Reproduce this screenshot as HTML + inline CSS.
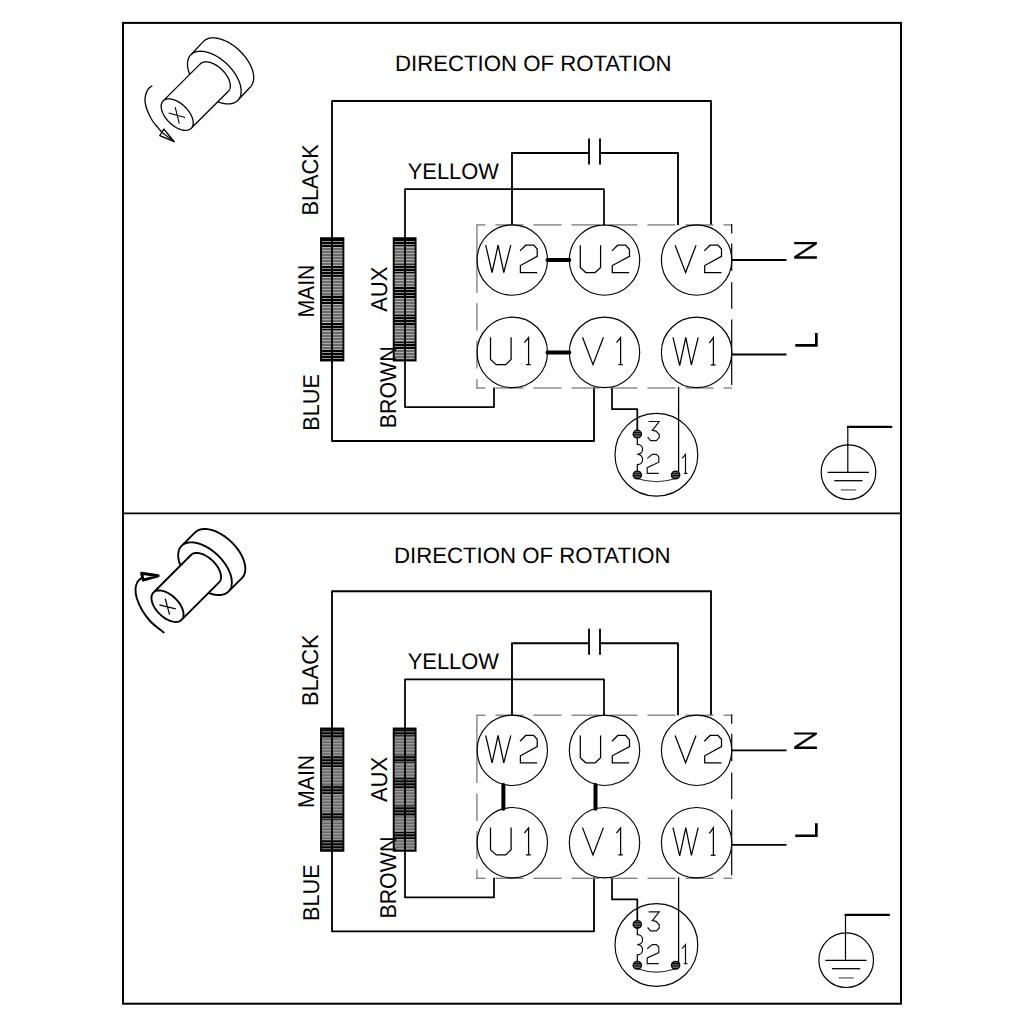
<!DOCTYPE html>
<html><head><meta charset="utf-8"><style>
html,body{margin:0;padding:0;background:#fff;}
svg{display:block;}
</style></head><body>
<svg width="1024" height="1024" viewBox="0 0 1024 1024" stroke-linecap="butt">
<defs>
<pattern id="bb" patternUnits="userSpaceOnUse" x="0" y="0" width="4" height="3">
<rect width="4" height="3" fill="#000"/><rect y="1" width="4" height="1" fill="#939393"/>
</pattern>
<pattern id="gb" patternUnits="userSpaceOnUse" x="0" y="0" width="4" height="3">
<rect width="4" height="3" fill="#6a6a6a"/><rect y="1" width="4" height="1" fill="#aaaaaa"/>
</pattern>
<pattern id="dot" patternUnits="userSpaceOnUse" width="4" height="2.4">
<rect width="4" height="2.4" fill="#000"/><rect y="1.2" width="4" height="0.9" fill="#a0a0a0"/>
</pattern>
</defs>
<rect x="0" y="0" width="1024" height="1024" fill="#fff"/>
<rect x="123" y="22.9" width="778" height="980.8" fill="none" stroke="#000" stroke-width="2"/>
<line x1="123" y1="513.3" x2="901" y2="513.3" stroke="#000" stroke-width="1.8"/>
<g transform="translate(0 0)">
<path d="M332 360.5 L332 101 L711 101 L711 225" stroke="#000" stroke-width="1.85" fill="none" stroke-linejoin="round"/>
<path d="M512 225 L512 153 L589 153" stroke="#000" stroke-width="1.85" fill="none" stroke-linejoin="round"/>
<path d="M600 153 L678 153 L678 225" stroke="#000" stroke-width="1.85" fill="none" stroke-linejoin="round"/>
<line x1="589" y1="139.1" x2="589" y2="163.7" stroke="#000" stroke-width="1.85" stroke-linecap="round"/>
<line x1="600" y1="139.1" x2="600" y2="163.7" stroke="#000" stroke-width="1.85" stroke-linecap="round"/>
<path d="M405 238.5 L405 189 L604 189 L604 225.5" stroke="#000" stroke-width="1.75" fill="none" stroke-linejoin="round"/>
<path d="M405 360 L405 407 L494 407 L494 387.5" stroke="#000" stroke-width="1.75" fill="none" stroke-linejoin="round"/>
<path d="M332 360.5 L332 441 L594 441 L594 387" stroke="#000" stroke-width="1.85" fill="none" stroke-linejoin="round"/>
<path d="M612 387 L612 409 L637.3 409 L637.3 434" stroke="#000" stroke-width="1.75" fill="none" stroke-linejoin="round"/>
<line x1="678.6" y1="387" x2="678.6" y2="475" stroke="#000" stroke-width="1.3" />
<rect x="321" y="238.2" width="22.4" height="9.5" fill="url(#bb)"/>
<rect x="321" y="247.7" width="22.4" height="17.8" fill="url(#gb)"/>
<rect x="321" y="265.5" width="22.4" height="11.4" fill="url(#bb)"/>
<rect x="321" y="276.9" width="22.4" height="17.8" fill="url(#gb)"/>
<rect x="321" y="294.7" width="22.4" height="9.5" fill="url(#bb)"/>
<rect x="321" y="304.2" width="22.4" height="18.4" fill="url(#gb)"/>
<rect x="321" y="322.6" width="22.4" height="7.6" fill="url(#bb)"/>
<rect x="321" y="330.2" width="22.4" height="19.1" fill="url(#gb)"/>
<rect x="321" y="349.3" width="22.4" height="11.2" fill="url(#bb)"/>
<rect x="321" y="238.2" width="22.4" height="122.3" fill="none" stroke="#000" stroke-width="1.9"/>
<line x1="332" y1="238.2" x2="332" y2="360.5" stroke="#000" stroke-width="1.9" />
<rect x="393.7" y="238.2" width="21.9" height="8.2" fill="url(#bb)"/>
<rect x="393.7" y="246.4" width="21.9" height="17.8" fill="url(#gb)"/>
<rect x="393.7" y="264.2" width="21.9" height="8.9" fill="url(#bb)"/>
<rect x="393.7" y="273.1" width="21.9" height="13.9" fill="url(#gb)"/>
<rect x="393.7" y="287" width="21.9" height="11.5" fill="url(#bb)"/>
<rect x="393.7" y="298.5" width="21.9" height="16.5" fill="url(#gb)"/>
<rect x="393.7" y="315" width="21.9" height="11.4" fill="url(#bb)"/>
<rect x="393.7" y="326.4" width="21.9" height="15.2" fill="url(#gb)"/>
<rect x="393.7" y="341.6" width="21.9" height="7.7" fill="url(#bb)"/>
<rect x="393.7" y="349.3" width="21.9" height="10.1" fill="url(#gb)"/>
<rect x="393.7" y="359.4" width="21.9" height="0.9" fill="url(#bb)"/>
<rect x="393.7" y="238.2" width="21.9" height="122.3" fill="none" stroke="#000" stroke-width="1.9"/>
<line x1="405" y1="238.2" x2="405" y2="360.5" stroke="#000" stroke-width="1.9" />
<line x1="476.3" y1="224.9" x2="485.5" y2="224.9" stroke="#7a7a7a" stroke-width="1.3" />
<line x1="476.3" y1="388" x2="485.5" y2="388" stroke="#7a7a7a" stroke-width="1.3" />
<line x1="495.5" y1="224.9" x2="523.5" y2="224.9" stroke="#7a7a7a" stroke-width="1.3" />
<line x1="495.5" y1="388" x2="523.5" y2="388" stroke="#7a7a7a" stroke-width="1.3" />
<line x1="533.5" y1="224.9" x2="561.5" y2="224.9" stroke="#7a7a7a" stroke-width="1.3" />
<line x1="533.5" y1="388" x2="561.5" y2="388" stroke="#7a7a7a" stroke-width="1.3" />
<line x1="571.5" y1="224.9" x2="599.5" y2="224.9" stroke="#7a7a7a" stroke-width="1.3" />
<line x1="571.5" y1="388" x2="599.5" y2="388" stroke="#7a7a7a" stroke-width="1.3" />
<line x1="609.5" y1="224.9" x2="637.5" y2="224.9" stroke="#7a7a7a" stroke-width="1.3" />
<line x1="609.5" y1="388" x2="637.5" y2="388" stroke="#7a7a7a" stroke-width="1.3" />
<line x1="647.5" y1="224.9" x2="675.5" y2="224.9" stroke="#7a7a7a" stroke-width="1.3" />
<line x1="647.5" y1="388" x2="675.5" y2="388" stroke="#7a7a7a" stroke-width="1.3" />
<line x1="685.5" y1="224.9" x2="713.5" y2="224.9" stroke="#7a7a7a" stroke-width="1.3" />
<line x1="685.5" y1="388" x2="713.5" y2="388" stroke="#7a7a7a" stroke-width="1.3" />
<line x1="723.5" y1="224.9" x2="732.2" y2="224.9" stroke="#7a7a7a" stroke-width="1.3" />
<line x1="723.5" y1="388" x2="732.2" y2="388" stroke="#7a7a7a" stroke-width="1.3" />
<line x1="476.9" y1="224.9" x2="476.9" y2="292.7" stroke="#7a7a7a" stroke-width="1.3" />
<line x1="476.9" y1="303.2" x2="476.9" y2="330.6" stroke="#7a7a7a" stroke-width="1.3" />
<line x1="476.9" y1="340.8" x2="476.9" y2="368.6" stroke="#7a7a7a" stroke-width="1.3" />
<line x1="476.9" y1="379.3" x2="476.9" y2="388.6" stroke="#7a7a7a" stroke-width="1.3" />
<line x1="731.7" y1="224.2" x2="731.7" y2="233.4" stroke="#000" stroke-width="1.2" />
<line x1="731.7" y1="243.5" x2="731.7" y2="270.7" stroke="#000" stroke-width="1.2" />
<line x1="731.7" y1="282.2" x2="731.7" y2="308.8" stroke="#000" stroke-width="1.2" />
<line x1="731.7" y1="319.5" x2="731.7" y2="384.9" stroke="#000" stroke-width="1.2" />
<circle cx="512.3" cy="260" r="35.2" fill="none" stroke="#000" stroke-width="1.15"/>
<path d="M485.7 245.2 L492.1 272.5 L498.1 245.2 L503.8 272.5 L510.8 245.2" stroke="#000" stroke-width="1.25" fill="none" />
<path d="M520 250.9 L525.7 245.2 L533.7 245.2 L537.2 249 L537.2 256.3 L520.4 265.5 L520.4 272.5 L537.2 272.5" stroke="#000" stroke-width="1.25" fill="none" />
<circle cx="604.5" cy="260" r="35.2" fill="none" stroke="#000" stroke-width="1.15"/>
<path d="M580.3 245.2 L580.3 267.4 L585.7 272.5 L595.2 272.5 L600.6 267.4 L600.6 245.2" stroke="#000" stroke-width="1.25" fill="none" />
<path d="M612 250.9 L617.7 245.2 L625.7 245.2 L629.5 249.6 L629.5 256.3 L612.3 265.5 L612.3 272.5 L629.1 272.5" stroke="#000" stroke-width="1.25" fill="none" />
<circle cx="696.6" cy="260" r="35.2" fill="none" stroke="#000" stroke-width="1.15"/>
<path d="M675.1 245.2 L685.6 272.5 L696.05 245.2" stroke="#000" stroke-width="1.25" fill="none" />
<path d="M704.3 250.9 L710 245.2 L718 245.2 L721.5 249 L721.5 256.3 L704.7 265.5 L704.7 272.5 L721.5 272.5" stroke="#000" stroke-width="1.25" fill="none" />
<circle cx="512.3" cy="352.4" r="35.2" fill="none" stroke="#000" stroke-width="1.15"/>
<path d="M490.5 337.3 L490.5 359.5 L496.2 364.6 L505.7 364.6 L511.1 359.5 L511.1 337.3" stroke="#000" stroke-width="1.25" fill="none" />
<path d="M524.4 342.7 L528.6 337.6 L528.6 364.6" stroke="#000" stroke-width="1.25" fill="none" />
<path d="M526 364.6 L530.8 364.6" stroke="#000" stroke-width="1.25" fill="none" />
<circle cx="604.5" cy="352.4" r="35.2" fill="none" stroke="#000" stroke-width="1.15"/>
<path d="M582.5 337.3 L593 364.6 L603.43 337.3" stroke="#000" stroke-width="1.25" fill="none" />
<path d="M616.5 342.7 L620.6 337.6 L620.6 364.6" stroke="#000" stroke-width="1.25" fill="none" />
<path d="M618.4 364.6 L622.8 364.6" stroke="#000" stroke-width="1.25" fill="none" />
<circle cx="696.6" cy="352.4" r="35.2" fill="none" stroke="#000" stroke-width="1.15"/>
<path d="M673 337.4 L679.7 365.5 L685.8 337.4 L691.4 365 L698.2 337.4" stroke="#000" stroke-width="1.25" fill="none" />
<path d="M709.4 343.1 L713.4 337.5 L713.4 365" stroke="#000" stroke-width="1.25" fill="none" />
<path d="M710.8 365 L715.5 365" stroke="#000" stroke-width="1.25" fill="none" />
<line x1="547.5" y1="260" x2="569.3" y2="260" stroke="#000" stroke-width="4" stroke-linecap="round"/>
<line x1="547.5" y1="352.4" x2="569.3" y2="352.4" stroke="#000" stroke-width="4" stroke-linecap="round"/>
<line x1="732" y1="260" x2="786.5" y2="260" stroke="#000" stroke-width="1.8" />
<line x1="732" y1="354.5" x2="786.5" y2="354.5" stroke="#000" stroke-width="1.8" />
<path d="M794.2 242.1 H816.9 V244.3 L798.5 256.3 H816.9 V258.8 H794.2 V256.3 L812.6 244.3 H794.2 Z" fill="#000"/>
<path d="M795.3 344.1 H815 V333 H817.7 V346.8 H795.3 Z" fill="#000"/>
<circle cx="656.4" cy="454.7" r="41.4" fill="none" stroke="#000" stroke-width="1.15"/>
<path d="M637.3 438 V444.4 C644.3 444.4 644.3 454.3 637.3 454.3 C644.3 454.3 644.3 464.6 637.3 464.6 V471" fill="none" stroke="#000" stroke-width="1.2"/>
<path d="M637.3 478.5 Q656.4 485 675.6 478.5" fill="none" stroke="#333" stroke-width="1.2"/>
<ellipse cx="637.3" cy="434.1" rx="4.2" ry="3.9" fill="url(#dot)" stroke="#000" stroke-width="1.2"/>
<ellipse cx="637.3" cy="475" rx="4.2" ry="3.9" fill="url(#dot)" stroke="#000" stroke-width="1.2"/>
<ellipse cx="675.6" cy="475" rx="4.2" ry="3.9" fill="url(#dot)" stroke="#000" stroke-width="1.2"/>
<path d="M648.6 421.5 L659.2 421.5 L652.3 430.4 L656.1 431.1 L659.2 434.5 L659.2 437.6 L656.4 440.6 L650.6 440.6 L647.6 437.2" stroke="#111" stroke-width="1.2" fill="none" />
<path d="M647.2 458.4 L652.3 454.3 L656.4 454.3 L658.8 456.7 L658.8 462.2 L647.2 467.6 L647.2 473.4 L658.8 473.4" stroke="#111" stroke-width="1.2" fill="none" />
<path d="M682.1 458.4 L685.5 454.3 L685.5 473.4" stroke="#111" stroke-width="1.2" fill="none" />
<line x1="683.8" y1="473.4" x2="687.5" y2="473.4" stroke="#111" stroke-width="1.2" />
<text x="395" y="70.85" font-size="22.3" textLength="276.5" lengthAdjust="spacingAndGlyphs" font-family="Liberation Sans, sans-serif" fill="#000" text-rendering="geometricPrecision">DIRECTION OF ROTATION</text>
<text x="407.8" y="178.9" font-size="22.5" textLength="91" lengthAdjust="spacingAndGlyphs" font-family="Liberation Sans, sans-serif" fill="#000" text-rendering="geometricPrecision">YELLOW</text>
<text transform="translate(317.9 215.6) rotate(-90)" x="0" y="0" font-size="22.9" textLength="71.5" lengthAdjust="spacingAndGlyphs" font-family="Liberation Sans, sans-serif" fill="#000" text-rendering="geometricPrecision">BLACK</text>
<text transform="translate(313.8 317.6) rotate(-90)" x="0" y="0" font-size="22.9" textLength="53" lengthAdjust="spacingAndGlyphs" font-family="Liberation Sans, sans-serif" fill="#000" text-rendering="geometricPrecision">MAIN</text>
<text transform="translate(319.2 430.7) rotate(-90)" x="0" y="0" font-size="22.9" textLength="56.6" lengthAdjust="spacingAndGlyphs" font-family="Liberation Sans, sans-serif" fill="#000" text-rendering="geometricPrecision">BLUE</text>
<text transform="translate(386.7 311.8) rotate(-90)" x="0" y="0" font-size="22.9" textLength="45.2" lengthAdjust="spacingAndGlyphs" font-family="Liberation Sans, sans-serif" fill="#000" text-rendering="geometricPrecision">AUX</text>
<text transform="translate(395.8 428.3) rotate(-90)" x="0" y="0" font-size="22.9" textLength="82" lengthAdjust="spacingAndGlyphs" font-family="Liberation Sans, sans-serif" fill="#000" text-rendering="geometricPrecision">BROWN</text>
<g transform="translate(0 0)">
<circle cx="848.5" cy="472.2" r="27.3" fill="none" stroke="#000" stroke-width="1.2"/>
<line x1="847.8" y1="426.9" x2="891.3" y2="426.9" stroke="#000" stroke-width="2.2" stroke-linecap="round"/>
<line x1="847.8" y1="426.9" x2="847.8" y2="472.3" stroke="#000" stroke-width="1.2" />
<line x1="827.6" y1="472.3" x2="868.9" y2="472.3" stroke="#000" stroke-width="1.3" />
<line x1="834.3" y1="480.7" x2="862.5" y2="480.7" stroke="#000" stroke-width="1.3" />
<line x1="840.8" y1="489.9" x2="856" y2="489.9" stroke="#777" stroke-width="1.5" />
</g>
</g><g transform="translate(0 490.3)">
<path d="M332 360.5 L332 101 L711 101 L711 225" stroke="#000" stroke-width="1.85" fill="none" stroke-linejoin="round"/>
<path d="M512 225 L512 153 L589 153" stroke="#000" stroke-width="1.85" fill="none" stroke-linejoin="round"/>
<path d="M600 153 L678 153 L678 225" stroke="#000" stroke-width="1.85" fill="none" stroke-linejoin="round"/>
<line x1="589" y1="139.1" x2="589" y2="163.7" stroke="#000" stroke-width="1.85" stroke-linecap="round"/>
<line x1="600" y1="139.1" x2="600" y2="163.7" stroke="#000" stroke-width="1.85" stroke-linecap="round"/>
<path d="M405 238.5 L405 189 L604 189 L604 225.5" stroke="#000" stroke-width="1.75" fill="none" stroke-linejoin="round"/>
<path d="M405 360 L405 407 L494 407 L494 387.5" stroke="#000" stroke-width="1.75" fill="none" stroke-linejoin="round"/>
<path d="M332 360.5 L332 441 L594 441 L594 387" stroke="#000" stroke-width="1.85" fill="none" stroke-linejoin="round"/>
<path d="M612 387 L612 409 L637.3 409 L637.3 434" stroke="#000" stroke-width="1.75" fill="none" stroke-linejoin="round"/>
<line x1="678.6" y1="387" x2="678.6" y2="475" stroke="#000" stroke-width="1.3" />
<rect x="321" y="238.2" width="22.4" height="9.5" fill="url(#bb)"/>
<rect x="321" y="247.7" width="22.4" height="17.8" fill="url(#gb)"/>
<rect x="321" y="265.5" width="22.4" height="11.4" fill="url(#bb)"/>
<rect x="321" y="276.9" width="22.4" height="17.8" fill="url(#gb)"/>
<rect x="321" y="294.7" width="22.4" height="9.5" fill="url(#bb)"/>
<rect x="321" y="304.2" width="22.4" height="18.4" fill="url(#gb)"/>
<rect x="321" y="322.6" width="22.4" height="7.6" fill="url(#bb)"/>
<rect x="321" y="330.2" width="22.4" height="19.1" fill="url(#gb)"/>
<rect x="321" y="349.3" width="22.4" height="11.2" fill="url(#bb)"/>
<rect x="321" y="238.2" width="22.4" height="122.3" fill="none" stroke="#000" stroke-width="1.9"/>
<line x1="332" y1="238.2" x2="332" y2="360.5" stroke="#000" stroke-width="1.9" />
<rect x="393.7" y="238.2" width="21.9" height="8.2" fill="url(#bb)"/>
<rect x="393.7" y="246.4" width="21.9" height="17.8" fill="url(#gb)"/>
<rect x="393.7" y="264.2" width="21.9" height="8.9" fill="url(#bb)"/>
<rect x="393.7" y="273.1" width="21.9" height="13.9" fill="url(#gb)"/>
<rect x="393.7" y="287" width="21.9" height="11.5" fill="url(#bb)"/>
<rect x="393.7" y="298.5" width="21.9" height="16.5" fill="url(#gb)"/>
<rect x="393.7" y="315" width="21.9" height="11.4" fill="url(#bb)"/>
<rect x="393.7" y="326.4" width="21.9" height="15.2" fill="url(#gb)"/>
<rect x="393.7" y="341.6" width="21.9" height="7.7" fill="url(#bb)"/>
<rect x="393.7" y="349.3" width="21.9" height="10.1" fill="url(#gb)"/>
<rect x="393.7" y="359.4" width="21.9" height="0.9" fill="url(#bb)"/>
<rect x="393.7" y="238.2" width="21.9" height="122.3" fill="none" stroke="#000" stroke-width="1.9"/>
<line x1="405" y1="238.2" x2="405" y2="360.5" stroke="#000" stroke-width="1.9" />
<line x1="476.3" y1="224.9" x2="485.5" y2="224.9" stroke="#7a7a7a" stroke-width="1.3" />
<line x1="476.3" y1="388" x2="485.5" y2="388" stroke="#7a7a7a" stroke-width="1.3" />
<line x1="495.5" y1="224.9" x2="523.5" y2="224.9" stroke="#7a7a7a" stroke-width="1.3" />
<line x1="495.5" y1="388" x2="523.5" y2="388" stroke="#7a7a7a" stroke-width="1.3" />
<line x1="533.5" y1="224.9" x2="561.5" y2="224.9" stroke="#7a7a7a" stroke-width="1.3" />
<line x1="533.5" y1="388" x2="561.5" y2="388" stroke="#7a7a7a" stroke-width="1.3" />
<line x1="571.5" y1="224.9" x2="599.5" y2="224.9" stroke="#7a7a7a" stroke-width="1.3" />
<line x1="571.5" y1="388" x2="599.5" y2="388" stroke="#7a7a7a" stroke-width="1.3" />
<line x1="609.5" y1="224.9" x2="637.5" y2="224.9" stroke="#7a7a7a" stroke-width="1.3" />
<line x1="609.5" y1="388" x2="637.5" y2="388" stroke="#7a7a7a" stroke-width="1.3" />
<line x1="647.5" y1="224.9" x2="675.5" y2="224.9" stroke="#7a7a7a" stroke-width="1.3" />
<line x1="647.5" y1="388" x2="675.5" y2="388" stroke="#7a7a7a" stroke-width="1.3" />
<line x1="685.5" y1="224.9" x2="713.5" y2="224.9" stroke="#7a7a7a" stroke-width="1.3" />
<line x1="685.5" y1="388" x2="713.5" y2="388" stroke="#7a7a7a" stroke-width="1.3" />
<line x1="723.5" y1="224.9" x2="732.2" y2="224.9" stroke="#7a7a7a" stroke-width="1.3" />
<line x1="723.5" y1="388" x2="732.2" y2="388" stroke="#7a7a7a" stroke-width="1.3" />
<line x1="476.9" y1="224.9" x2="476.9" y2="292.7" stroke="#7a7a7a" stroke-width="1.3" />
<line x1="476.9" y1="303.2" x2="476.9" y2="330.6" stroke="#7a7a7a" stroke-width="1.3" />
<line x1="476.9" y1="340.8" x2="476.9" y2="368.6" stroke="#7a7a7a" stroke-width="1.3" />
<line x1="476.9" y1="379.3" x2="476.9" y2="388.6" stroke="#7a7a7a" stroke-width="1.3" />
<line x1="731.7" y1="224.2" x2="731.7" y2="233.4" stroke="#000" stroke-width="1.2" />
<line x1="731.7" y1="243.5" x2="731.7" y2="270.7" stroke="#000" stroke-width="1.2" />
<line x1="731.7" y1="282.2" x2="731.7" y2="308.8" stroke="#000" stroke-width="1.2" />
<line x1="731.7" y1="319.5" x2="731.7" y2="384.9" stroke="#000" stroke-width="1.2" />
<circle cx="512.3" cy="260" r="35.2" fill="none" stroke="#000" stroke-width="1.15"/>
<path d="M485.7 245.2 L492.1 272.5 L498.1 245.2 L503.8 272.5 L510.8 245.2" stroke="#000" stroke-width="1.25" fill="none" />
<path d="M520 250.9 L525.7 245.2 L533.7 245.2 L537.2 249 L537.2 256.3 L520.4 265.5 L520.4 272.5 L537.2 272.5" stroke="#000" stroke-width="1.25" fill="none" />
<circle cx="604.5" cy="260" r="35.2" fill="none" stroke="#000" stroke-width="1.15"/>
<path d="M580.3 245.2 L580.3 267.4 L585.7 272.5 L595.2 272.5 L600.6 267.4 L600.6 245.2" stroke="#000" stroke-width="1.25" fill="none" />
<path d="M612 250.9 L617.7 245.2 L625.7 245.2 L629.5 249.6 L629.5 256.3 L612.3 265.5 L612.3 272.5 L629.1 272.5" stroke="#000" stroke-width="1.25" fill="none" />
<circle cx="696.6" cy="260" r="35.2" fill="none" stroke="#000" stroke-width="1.15"/>
<path d="M675.1 245.2 L685.6 272.5 L696.05 245.2" stroke="#000" stroke-width="1.25" fill="none" />
<path d="M704.3 250.9 L710 245.2 L718 245.2 L721.5 249 L721.5 256.3 L704.7 265.5 L704.7 272.5 L721.5 272.5" stroke="#000" stroke-width="1.25" fill="none" />
<circle cx="512.3" cy="352.4" r="35.2" fill="none" stroke="#000" stroke-width="1.15"/>
<path d="M490.5 337.3 L490.5 359.5 L496.2 364.6 L505.7 364.6 L511.1 359.5 L511.1 337.3" stroke="#000" stroke-width="1.25" fill="none" />
<path d="M524.4 342.7 L528.6 337.6 L528.6 364.6" stroke="#000" stroke-width="1.25" fill="none" />
<path d="M526 364.6 L530.8 364.6" stroke="#000" stroke-width="1.25" fill="none" />
<circle cx="604.5" cy="352.4" r="35.2" fill="none" stroke="#000" stroke-width="1.15"/>
<path d="M582.5 337.3 L593 364.6 L603.43 337.3" stroke="#000" stroke-width="1.25" fill="none" />
<path d="M616.5 342.7 L620.6 337.6 L620.6 364.6" stroke="#000" stroke-width="1.25" fill="none" />
<path d="M618.4 364.6 L622.8 364.6" stroke="#000" stroke-width="1.25" fill="none" />
<circle cx="696.6" cy="352.4" r="35.2" fill="none" stroke="#000" stroke-width="1.15"/>
<path d="M673 337.4 L679.7 365.5 L685.8 337.4 L691.4 365 L698.2 337.4" stroke="#000" stroke-width="1.25" fill="none" />
<path d="M709.4 343.1 L713.4 337.5 L713.4 365" stroke="#000" stroke-width="1.25" fill="none" />
<path d="M710.8 365 L715.5 365" stroke="#000" stroke-width="1.25" fill="none" />
<line x1="503.4" y1="294.6" x2="503.4" y2="318.4" stroke="#000" stroke-width="4" stroke-linecap="round"/>
<line x1="595.5" y1="294.6" x2="595.5" y2="318.4" stroke="#000" stroke-width="4" stroke-linecap="round"/>
<line x1="732" y1="260" x2="786.5" y2="260" stroke="#000" stroke-width="1.8" />
<line x1="732" y1="354.5" x2="786.5" y2="354.5" stroke="#000" stroke-width="1.8" />
<path d="M794.2 242.1 H816.9 V244.3 L798.5 256.3 H816.9 V258.8 H794.2 V256.3 L812.6 244.3 H794.2 Z" fill="#000"/>
<path d="M795.3 344.1 H815 V333 H817.7 V346.8 H795.3 Z" fill="#000"/>
<circle cx="656.4" cy="454.7" r="41.4" fill="none" stroke="#000" stroke-width="1.15"/>
<path d="M637.3 438 V444.4 C644.3 444.4 644.3 454.3 637.3 454.3 C644.3 454.3 644.3 464.6 637.3 464.6 V471" fill="none" stroke="#000" stroke-width="1.2"/>
<path d="M637.3 478.5 Q656.4 485 675.6 478.5" fill="none" stroke="#333" stroke-width="1.2"/>
<ellipse cx="637.3" cy="434.1" rx="4.2" ry="3.9" fill="url(#dot)" stroke="#000" stroke-width="1.2"/>
<ellipse cx="637.3" cy="475" rx="4.2" ry="3.9" fill="url(#dot)" stroke="#000" stroke-width="1.2"/>
<ellipse cx="675.6" cy="475" rx="4.2" ry="3.9" fill="url(#dot)" stroke="#000" stroke-width="1.2"/>
<path d="M648.6 421.5 L659.2 421.5 L652.3 430.4 L656.1 431.1 L659.2 434.5 L659.2 437.6 L656.4 440.6 L650.6 440.6 L647.6 437.2" stroke="#111" stroke-width="1.2" fill="none" />
<path d="M647.2 458.4 L652.3 454.3 L656.4 454.3 L658.8 456.7 L658.8 462.2 L647.2 467.6 L647.2 473.4 L658.8 473.4" stroke="#111" stroke-width="1.2" fill="none" />
<path d="M682.1 458.4 L685.5 454.3 L685.5 473.4" stroke="#111" stroke-width="1.2" fill="none" />
<line x1="683.8" y1="473.4" x2="687.5" y2="473.4" stroke="#111" stroke-width="1.2" />
<text x="394" y="72.45" font-size="22.3" textLength="276.5" lengthAdjust="spacingAndGlyphs" font-family="Liberation Sans, sans-serif" fill="#000" text-rendering="geometricPrecision">DIRECTION OF ROTATION</text>
<text x="407.8" y="178.9" font-size="22.5" textLength="91" lengthAdjust="spacingAndGlyphs" font-family="Liberation Sans, sans-serif" fill="#000" text-rendering="geometricPrecision">YELLOW</text>
<text transform="translate(317.9 215.6) rotate(-90)" x="0" y="0" font-size="22.9" textLength="71.5" lengthAdjust="spacingAndGlyphs" font-family="Liberation Sans, sans-serif" fill="#000" text-rendering="geometricPrecision">BLACK</text>
<text transform="translate(313.8 317.6) rotate(-90)" x="0" y="0" font-size="22.9" textLength="53" lengthAdjust="spacingAndGlyphs" font-family="Liberation Sans, sans-serif" fill="#000" text-rendering="geometricPrecision">MAIN</text>
<text transform="translate(319.2 430.7) rotate(-90)" x="0" y="0" font-size="22.9" textLength="56.6" lengthAdjust="spacingAndGlyphs" font-family="Liberation Sans, sans-serif" fill="#000" text-rendering="geometricPrecision">BLUE</text>
<text transform="translate(386.7 311.8) rotate(-90)" x="0" y="0" font-size="22.9" textLength="45.2" lengthAdjust="spacingAndGlyphs" font-family="Liberation Sans, sans-serif" fill="#000" text-rendering="geometricPrecision">AUX</text>
<text transform="translate(395.8 428.3) rotate(-90)" x="0" y="0" font-size="22.9" textLength="82" lengthAdjust="spacingAndGlyphs" font-family="Liberation Sans, sans-serif" fill="#000" text-rendering="geometricPrecision">BROWN</text>
<g transform="translate(-2.3 -2.3)">
<circle cx="848.5" cy="472.2" r="27.3" fill="none" stroke="#000" stroke-width="1.2"/>
<line x1="847.8" y1="426.9" x2="891.3" y2="426.9" stroke="#000" stroke-width="2.2" stroke-linecap="round"/>
<line x1="847.8" y1="426.9" x2="847.8" y2="472.3" stroke="#000" stroke-width="1.2" />
<line x1="827.6" y1="472.3" x2="868.9" y2="472.3" stroke="#000" stroke-width="1.3" />
<line x1="834.3" y1="480.7" x2="862.5" y2="480.7" stroke="#000" stroke-width="1.3" />
<line x1="840.8" y1="489.9" x2="856" y2="489.9" stroke="#777" stroke-width="1.5" />
</g>
</g><g fill="none" stroke="#000" stroke-width="1.3" stroke-linejoin="round"><path d="M191.3 128.22 L191.86 127.54 L192.33 126.79 L192.71 125.96 L192.98 125.06 L193.16 124.09 L193.23 123.06 L193.21 121.98 L193.08 120.85 L192.85 119.68 L192.53 118.48 L192.1 117.26 L191.59 116.01 L190.98 114.76 L190.28 113.51 L189.5 112.27 L188.65 111.04 L187.72 109.83 L186.72 108.65 L185.67 107.51 L184.56 106.42 L183.4 105.37 L182.21 104.39 L180.98 103.47 L179.73 102.62 L178.47 101.85 L177.19 101.15 L175.92 100.54 L174.65 100.02 L173.4 99.6 L172.18 99.26 L170.98 99.03 L169.83 98.89 L168.72 98.85 L167.67 98.91 L166.67 99.08 L165.74 99.33 L164.89 99.69 L164.11 100.14 L163.42 100.68 L162.81 101.31 L162.29 102.02 L161.87 102.82 L161.54 103.68 L161.32 104.62 L161.19 105.62 L161.17 106.67 L161.24 107.78 L161.42 108.93 L161.7 110.12 L162.07 111.33 L162.54 112.56 L163.11 113.81 L163.76 115.06 L164.5 116.31 L165.32 117.55 L166.21 118.77 L167.17 119.96 L168.2 121.12 L169.28 122.24 L170.41 123.31 L171.59 124.33 L172.8 125.28 L174.04 126.16 L175.3 126.98 L176.57 127.71 L177.84 128.36 L179.12 128.93 L180.37 129.4 L181.61 129.78 L182.82 130.07 L184 130.25 L185.13 130.34 L186.21 130.33 L187.24 130.22 L188.2 130.01 L189.09 129.7 L189.91 129.3 L190.65 128.8 L191.3 128.22 Z M163.18 100.9 L200.28 63.9 M191.22 128.3 L228.32 91.3 M228.32 91.3 L228.71 90.87 L229.07 90.39 L229.38 89.89 L229.65 89.35 L229.87 88.77 L230.05 88.16 L230.19 87.53 L230.28 86.86 L230.33 86.17 L230.33 85.46 L230.29 84.72 L230.2 83.96 L230.06 83.19 L229.88 82.4 L229.66 81.59 L229.39 80.77 L229.08 79.95 L228.73 79.12 L228.34 78.28 L227.91 77.44 L227.44 76.6 L226.93 75.77 L226.38 74.94 L225.8 74.12 L225.19 73.3 L224.55 72.5 L223.88 71.72 L223.18 70.95 L222.46 70.2 L221.71 69.47 L220.95 68.76 L220.16 68.08 L219.36 67.43 L218.54 66.8 L217.71 66.21 L216.87 65.65 L216.03 65.12 L215.18 64.62 L214.32 64.17 L213.47 63.75 L212.62 63.37 L211.77 63.03 L210.93 62.73 L210.1 62.48 L209.28 62.27 L208.48 62.1 L207.69 61.97 L206.93 61.89 L206.18 61.85 L205.45 61.86 L204.75 61.92 L204.08 62.01 L203.44 62.16 L202.83 62.34 L202.25 62.57 L201.7 62.84 L201.19 63.15 L200.72 63.51 L200.28 63.9 M218.06 101.89 L218.47 102.04 L218.89 102.2 L219.31 102.34 L219.72 102.48 L220.13 102.61 L220.55 102.74 L220.96 102.86 L221.36 102.98 L221.77 103.08 L222.18 103.19 L222.58 103.28 L222.98 103.37 L223.38 103.45 L223.77 103.53 L224.17 103.6 L224.56 103.66 L224.95 103.72 L225.33 103.77 L225.72 103.82 L226.1 103.85 L226.48 103.89 L226.85 103.91 L227.22 103.93 L227.59 103.94 L227.96 103.94 L228.32 103.94 L228.68 103.93 L229.03 103.92 L229.38 103.9 L229.73 103.87 L230.07 103.84 L230.41 103.8 L230.75 103.75 L231.08 103.7 L231.41 103.64 L231.73 103.57 L232.05 103.5 L232.36 103.42 L232.67 103.33 L232.98 103.24 L233.28 103.14 L233.58 103.04 L233.87 102.92 L234.15 102.81 L234.44 102.68 L234.71 102.55 L234.98 102.42 L235.25 102.28 L235.51 102.13 L235.77 101.97 L236.02 101.81 L236.26 101.65 L236.5 101.47 L236.74 101.29 L236.96 101.11 L237.19 100.92 L237.4 100.72 L237.62 100.52 L237.82 100.32 L237.82 100.32 L238.02 100.1 L238.22 99.88 L238.4 99.66 L238.59 99.43 L238.76 99.2 L238.93 98.96 L239.1 98.71 L239.26 98.46 L239.41 98.2 L239.55 97.94 L239.69 97.68 L239.82 97.4 L239.95 97.13 L240.07 96.85 L240.18 96.56 L240.29 96.27 L240.39 95.98 L240.49 95.68 L240.58 95.37 L240.66 95.06 L240.73 94.75 L240.8 94.43 L240.86 94.11 L240.92 93.79 L240.97 93.46 L241.01 93.13 L241.04 92.79 L241.07 92.45 L241.09 92.1 L241.11 91.76 L241.12 91.4 L241.12 91.05 L241.12 90.69 L241.1 90.33 L241.09 89.96 L241.06 89.6 L241.03 89.23 L240.99 88.85 L240.95 88.47 L240.9 88.1 L240.84 87.71 L240.78 87.33 L240.71 86.94 L240.63 86.55 L240.55 86.16 L240.46 85.77 L240.36 85.37 L240.26 84.98 L240.15 84.58 L240.03 84.18 L239.91 83.77 L239.78 83.37 L239.64 82.96 L239.5 82.56 L239.35 82.15 L239.2 81.74 L239.04 81.33 L238.87 80.92 L238.7 80.51 L238.52 80.09 L238.34 79.68 L238.15 79.27 L237.95 78.85 L237.75 78.44 L237.54 78.02 L237.33 77.61 L237.11 77.19 L236.89 76.78 L236.65 76.36 L236.42 75.95 L236.18 75.54 L235.93 75.12 L235.68 74.71 L235.42 74.3 L235.16 73.89 L234.89 73.48 L234.62 73.07 L234.34 72.66 L234.05 72.25 L233.77 71.85 L233.47 71.44 L233.18 71.04 L232.87 70.64 L232.57 70.24 L232.25 69.84 L231.94 69.45 L231.62 69.05 L231.29 68.66 L230.96 68.27 L230.63 67.89 L230.29 67.5 L229.95 67.12 L229.61 66.74 L229.26 66.36 L228.91 65.99 L228.55 65.62 L228.19 65.25 L227.83 64.89 L227.46 64.53 L227.09 64.17 L226.72 63.81 L226.34 63.46 L225.97 63.11 L225.58 62.77 L225.2 62.43 L224.81 62.09 L224.42 61.76 L224.03 61.43 L223.64 61.1 L223.24 60.78 L222.84 60.46 L222.44 60.15 L222.03 59.84 L221.63 59.54 L221.22 59.24 L220.81 58.94 L220.4 58.65 L219.99 58.36 L219.58 58.08 L219.16 57.81 L218.75 57.54 L218.33 57.27 L217.91 57.01 L217.49 56.75 L217.07 56.5 L216.65 56.26 L216.23 56.01 L215.81 55.78 L215.39 55.55 L214.97 55.33 L214.54 55.11 L214.12 54.89 L213.7 54.69 L213.28 54.48 L212.85 54.29 L212.43 54.1 L212.01 53.91 L211.59 53.73 L211.17 53.56 L210.75 53.4 L210.33 53.23 L209.92 53.08 L209.5 52.93 L209.09 52.79 L208.67 52.65 L208.26 52.52 L207.85 52.4 L207.44 52.28 L207.03 52.17 L206.63 52.06 L206.22 51.96 L205.82 51.87 L205.42 51.79 L205.02 51.71 L204.63 51.63 L204.24 51.57 L203.85 51.51 L203.46 51.45 L203.07 51.4 L202.69 51.36 L202.31 51.33 L201.94 51.3 L201.56 51.28 L201.19 51.27 L200.83 51.26 L200.46 51.26 L200.1 51.26 L199.75 51.27 L199.39 51.29 L199.04 51.31 L198.7 51.34 L198.36 51.38 L198.02 51.43 L197.69 51.48 L197.36 51.53 L197.03 51.6 L196.71 51.67 L196.39 51.74 L196.08 51.82 L195.77 51.91 L195.47 52.01 L195.17 52.11 L194.88 52.22 L194.59 52.33 L194.3 52.45 L194.03 52.58 L193.75 52.71 L193.48 52.85 L193.22 53 L192.96 53.15 L192.71 53.31 L192.46 53.47 L192.22 53.64 L191.98 53.82 L191.75 54 L191.52 54.18 L191.3 54.38 L191.09 54.58 L190.88 54.78 L190.68 54.99 L190.48 55.21 L190.29 55.43 L190.1 55.65 L189.92 55.89 L189.75 56.12 L189.58 56.37 L189.42 56.62 L189.27 56.87 L189.12 57.13 L188.98 57.39 L188.84 57.66 L188.71 57.93 L188.59 58.21 L188.47 58.49 L188.36 58.78 L188.26 59.08 L188.16 59.37 L188.07 59.67 L187.98 59.98 L187.9 60.29 L187.83 60.61 L187.77 60.93 L187.71 61.25 L187.66 61.58 L187.61 61.91 L187.57 62.24 L187.54 62.58 L187.52 62.92 L187.5 63.27 L187.49 63.62 L187.48 63.97 L187.48 64.33 L187.49 64.69 L187.5 65.05 L187.52 65.42 L187.55 65.79 L187.59 66.16 L187.63 66.54 L187.67 66.91 L187.73 67.29 L187.79 67.68 L187.86 68.06 L187.93 68.45 L188.01 68.84 L188.1 69.23 L188.19 69.63 L188.29 70.02 L188.4 70.42 L188.51 70.82 L188.63 71.22 L188.76 71.63 L188.89 72.03 L189.03 72.44 L189.17 72.85 L189.32 73.25 L189.48 73.66 L189.64 74.08 M250.28 87.06 L250.95 86.33 L251.55 85.53 L252.08 84.68 L252.53 83.77 L252.92 82.8 L253.23 81.79 L253.46 80.72 L253.62 79.6 L253.71 78.44 L253.71 77.24 L253.65 76 L253.5 74.73 L253.29 73.43 L252.99 72.11 L252.62 70.76 L252.18 69.39 L251.67 68.01 L251.09 66.62 L250.44 65.22 L249.72 63.82 L248.94 62.41 L248.09 61.02 L247.19 59.63 L246.23 58.26 L245.21 56.9 L244.14 55.56 L243.02 54.25 L241.86 52.96 L240.65 51.71 L239.41 50.5 L238.13 49.32 L236.82 48.18 L235.48 47.09 L234.11 46.05 L232.73 45.06 L231.32 44.12 L229.91 43.24 L228.49 42.42 L227.06 41.66 L225.63 40.97 L224.21 40.34 L222.79 39.78 L221.39 39.29 L220 38.87 L218.63 38.52 L217.28 38.24 L215.96 38.04 L214.68 37.91 L213.42 37.86 L212.21 37.88 L211.03 37.97 L209.91 38.14 L208.83 38.39 L207.8 38.7 L206.82 39.09 L205.9 39.55 L205.05 40.08 L204.25 40.68 L203.52 41.34 M190.92 54.74 L203.52 41.34 M237.68 100.46 L250.28 87.06"/><path d="M152.3 85.7 C151.62 86.27 149.33 87.5 148.2 89.1 C147.07 90.7 146.02 93.13 145.5 95.3 C144.98 97.47 144.77 99.48 145.1 102.1 C145.43 104.72 146.3 107.93 147.5 111 C148.7 114.07 150.58 117.77 152.3 120.5 C154.02 123.23 156.2 125.45 157.8 127.4 C159.4 129.35 161.22 131.4 161.9 132.2"/><path d="M159.8 135.6 L163.9 129.1 L174.2 141.7 Z" stroke-width="1.4"/><path d="M168.7 113 L185.1 117.5 M175.2 107.2 L179.3 123.6" stroke-width="1.1"/><path d="M161.9 132.2 L174.2 141.7" stroke-width="1.1"/></g>
<g fill="none" stroke="#000" stroke-width="1.9" stroke-linejoin="round"><path d="M181.6 619.82 L182.16 619.14 L182.63 618.39 L183.01 617.56 L183.28 616.66 L183.46 615.69 L183.53 614.66 L183.51 613.58 L183.38 612.45 L183.15 611.28 L182.83 610.08 L182.4 608.86 L181.89 607.61 L181.28 606.36 L180.58 605.11 L179.8 603.87 L178.95 602.64 L178.02 601.43 L177.02 600.25 L175.97 599.11 L174.86 598.02 L173.7 596.97 L172.51 595.99 L171.28 595.07 L170.03 594.22 L168.77 593.45 L167.49 592.75 L166.22 592.14 L164.95 591.62 L163.7 591.2 L162.48 590.86 L161.28 590.63 L160.13 590.49 L159.02 590.45 L157.97 590.51 L156.97 590.68 L156.04 590.93 L155.19 591.29 L154.41 591.74 L153.72 592.28 L153.11 592.91 L152.59 593.62 L152.17 594.42 L151.84 595.28 L151.62 596.22 L151.49 597.22 L151.47 598.27 L151.54 599.38 L151.72 600.53 L152 601.72 L152.37 602.93 L152.84 604.16 L153.41 605.41 L154.06 606.66 L154.8 607.91 L155.62 609.15 L156.51 610.37 L157.47 611.56 L158.5 612.72 L159.58 613.84 L160.71 614.91 L161.89 615.93 L163.1 616.88 L164.34 617.76 L165.6 618.58 L166.87 619.31 L168.14 619.96 L169.42 620.53 L170.67 621 L171.91 621.38 L173.12 621.67 L174.3 621.85 L175.43 621.94 L176.51 621.93 L177.54 621.82 L178.5 621.61 L179.39 621.3 L180.21 620.9 L180.95 620.4 L181.6 619.82 Z M153.48 592.51 L190.98 555.01 M181.52 619.89 L219.02 582.39 M219.02 582.39 L219.42 581.96 L219.77 581.49 L220.08 580.98 L220.35 580.44 L220.58 579.86 L220.76 579.26 L220.89 578.62 L220.98 577.95 L221.03 577.26 L221.03 576.55 L220.99 575.81 L220.9 575.05 L220.76 574.28 L220.58 573.48 L220.36 572.68 L220.09 571.86 L219.78 571.04 L219.43 570.2 L219.03 569.37 L218.6 568.53 L218.13 567.69 L217.62 566.86 L217.08 566.03 L216.5 565.21 L215.88 564.39 L215.24 563.59 L214.57 562.81 L213.87 562.04 L213.15 561.29 L212.4 560.56 L211.64 559.85 L210.85 559.17 L210.05 558.52 L209.23 557.89 L208.4 557.3 L207.56 556.74 L206.71 556.21 L205.86 555.72 L205.01 555.26 L204.16 554.84 L203.31 554.46 L202.46 554.13 L201.62 553.83 L200.79 553.57 L199.97 553.36 L199.17 553.19 L198.38 553.07 L197.61 552.99 L196.87 552.95 L196.14 552.96 L195.44 553.02 L194.77 553.12 L194.13 553.26 L193.52 553.44 L192.94 553.67 L192.39 553.94 L191.88 554.26 L191.41 554.61 L190.98 555.01 M208.76 592.99 L209.17 593.14 L209.59 593.3 L210.01 593.44 L210.42 593.58 L210.83 593.71 L211.25 593.84 L211.66 593.96 L212.06 594.08 L212.47 594.18 L212.88 594.29 L213.28 594.38 L213.68 594.47 L214.08 594.55 L214.47 594.63 L214.87 594.7 L215.26 594.76 L215.65 594.82 L216.03 594.87 L216.42 594.92 L216.8 594.95 L217.18 594.99 L217.55 595.01 L217.92 595.03 L218.29 595.04 L218.66 595.04 L219.02 595.04 L219.38 595.03 L219.73 595.02 L220.08 595 L220.43 594.97 L220.77 594.94 L221.11 594.9 L221.45 594.85 L221.78 594.8 L222.11 594.74 L222.43 594.67 L222.75 594.6 L223.06 594.52 L223.37 594.43 L223.68 594.34 L223.98 594.24 L224.28 594.14 L224.57 594.02 L224.85 593.91 L225.14 593.78 L225.41 593.65 L225.68 593.52 L225.95 593.38 L226.21 593.23 L226.47 593.07 L226.72 592.91 L226.96 592.75 L227.2 592.57 L227.44 592.39 L227.66 592.21 L227.89 592.02 L228.1 591.82 L228.32 591.62 L228.52 591.42 L228.52 591.42 L228.72 591.2 L228.92 590.98 L229.1 590.76 L229.29 590.53 L229.46 590.3 L229.63 590.06 L229.8 589.81 L229.96 589.56 L230.11 589.3 L230.25 589.04 L230.39 588.78 L230.52 588.5 L230.65 588.23 L230.77 587.95 L230.88 587.66 L230.99 587.37 L231.09 587.08 L231.19 586.78 L231.28 586.47 L231.36 586.16 L231.43 585.85 L231.5 585.53 L231.56 585.21 L231.62 584.89 L231.67 584.56 L231.71 584.23 L231.74 583.89 L231.77 583.55 L231.79 583.2 L231.81 582.86 L231.82 582.5 L231.82 582.15 L231.82 581.79 L231.8 581.43 L231.79 581.06 L231.76 580.7 L231.73 580.33 L231.69 579.95 L231.65 579.57 L231.6 579.2 L231.54 578.81 L231.48 578.43 L231.41 578.04 L231.33 577.65 L231.25 577.26 L231.16 576.87 L231.06 576.47 L230.96 576.08 L230.85 575.68 L230.73 575.28 L230.61 574.87 L230.48 574.47 L230.34 574.06 L230.2 573.66 L230.05 573.25 L229.9 572.84 L229.74 572.43 L229.57 572.02 L229.4 571.61 L229.22 571.19 L229.04 570.78 L228.85 570.37 L228.65 569.95 L228.45 569.54 L228.24 569.12 L228.03 568.71 L227.81 568.29 L227.59 567.88 L227.35 567.46 L227.12 567.05 L226.88 566.64 L226.63 566.22 L226.38 565.81 L226.12 565.4 L225.86 564.99 L225.59 564.58 L225.32 564.17 L225.04 563.76 L224.75 563.35 L224.47 562.95 L224.17 562.54 L223.88 562.14 L223.57 561.74 L223.27 561.34 L222.95 560.94 L222.64 560.55 L222.32 560.15 L221.99 559.76 L221.66 559.37 L221.33 558.99 L220.99 558.6 L220.65 558.22 L220.31 557.84 L219.96 557.46 L219.61 557.09 L219.25 556.72 L218.89 556.35 L218.53 555.99 L218.16 555.63 L217.79 555.27 L217.42 554.91 L217.04 554.56 L216.67 554.21 L216.28 553.87 L215.9 553.53 L215.51 553.19 L215.12 552.86 L214.73 552.53 L214.34 552.2 L213.94 551.88 L213.54 551.56 L213.14 551.25 L212.73 550.94 L212.33 550.64 L211.92 550.34 L211.51 550.04 L211.1 549.75 L210.69 549.46 L210.28 549.18 L209.86 548.91 L209.45 548.64 L209.03 548.37 L208.61 548.11 L208.19 547.85 L207.77 547.6 L207.35 547.36 L206.93 547.11 L206.51 546.88 L206.09 546.65 L205.67 546.43 L205.24 546.21 L204.82 545.99 L204.4 545.79 L203.98 545.58 L203.55 545.39 L203.13 545.2 L202.71 545.01 L202.29 544.83 L201.87 544.66 L201.45 544.5 L201.03 544.33 L200.62 544.18 L200.2 544.03 L199.79 543.89 L199.37 543.75 L198.96 543.62 L198.55 543.5 L198.14 543.38 L197.73 543.27 L197.33 543.16 L196.92 543.06 L196.52 542.97 L196.12 542.89 L195.72 542.81 L195.33 542.73 L194.94 542.67 L194.55 542.61 L194.16 542.55 L193.77 542.5 L193.39 542.46 L193.01 542.43 L192.64 542.4 L192.26 542.38 L191.89 542.37 L191.53 542.36 L191.16 542.36 L190.8 542.36 L190.45 542.37 L190.09 542.39 L189.74 542.41 L189.4 542.44 L189.06 542.48 L188.72 542.53 L188.39 542.58 L188.06 542.63 L187.73 542.7 L187.41 542.77 L187.09 542.84 L186.78 542.92 L186.47 543.01 L186.17 543.11 L185.87 543.21 L185.58 543.32 L185.29 543.43 L185 543.55 L184.73 543.68 L184.45 543.81 L184.18 543.95 L183.92 544.1 L183.66 544.25 L183.41 544.41 L183.16 544.57 L182.92 544.74 L182.68 544.92 L182.45 545.1 L182.22 545.28 L182 545.48 L181.79 545.68 L181.58 545.88 L181.38 546.09 L181.18 546.31 L180.99 546.53 L180.8 546.75 L180.62 546.99 L180.45 547.22 L180.28 547.47 L180.12 547.72 L179.97 547.97 L179.82 548.23 L179.68 548.49 L179.54 548.76 L179.41 549.03 L179.29 549.31 L179.17 549.59 L179.06 549.88 L178.96 550.18 L178.86 550.47 L178.77 550.77 L178.68 551.08 L178.6 551.39 L178.53 551.71 L178.47 552.03 L178.41 552.35 L178.36 552.68 L178.31 553.01 L178.27 553.34 L178.24 553.68 L178.22 554.02 L178.2 554.37 L178.19 554.72 L178.18 555.07 L178.18 555.43 L178.19 555.79 L178.2 556.15 L178.22 556.52 L178.25 556.89 L178.29 557.26 L178.33 557.64 L178.37 558.01 L178.43 558.39 L178.49 558.78 L178.56 559.16 L178.63 559.55 L178.71 559.94 L178.8 560.33 L178.89 560.73 L178.99 561.12 L179.1 561.52 L179.21 561.92 L179.33 562.32 L179.46 562.73 L179.59 563.13 L179.73 563.54 L179.87 563.95 L180.02 564.35 L180.18 564.76 L180.34 565.18 M241.89 578.15 L242.56 577.42 L243.16 576.62 L243.68 575.77 L244.14 574.86 L244.52 573.89 L244.83 572.87 L245.06 571.8 L245.22 570.68 L245.31 569.52 L245.31 568.32 L245.25 567.09 L245.1 565.82 L244.88 564.52 L244.59 563.19 L244.22 561.84 L243.78 560.47 L243.26 559.09 L242.68 557.7 L242.03 556.3 L241.31 554.89 L240.53 553.49 L239.68 552.1 L238.78 550.71 L237.81 549.34 L236.8 547.98 L235.73 546.64 L234.61 545.33 L233.44 544.05 L232.24 542.79 L230.99 541.58 L229.71 540.4 L228.4 539.27 L227.06 538.18 L225.69 537.13 L224.31 536.14 L222.9 535.21 L221.49 534.33 L220.07 533.51 L218.64 532.75 L217.21 532.06 L215.79 531.43 L214.37 530.87 L212.97 530.38 L211.58 529.96 L210.21 529.61 L208.86 529.34 L207.54 529.14 L206.26 529.01 L205 528.96 L203.79 528.98 L202.62 529.07 L201.49 529.25 L200.41 529.49 L199.38 529.81 L198.41 530.2 L197.49 530.66 L196.63 531.19 L195.84 531.79 L195.11 532.45 M181.61 545.85 L195.11 532.45 M228.39 591.55 L241.89 578.15"/><path d="M164.4 632.8 C163.57 632.17 161.72 630.88 159.4 629 C157.08 627.12 153.35 624.57 150.5 621.5 C147.65 618.43 144.58 614.47 142.3 610.6 C140.02 606.73 137.93 601.95 136.8 598.3 C135.67 594.65 135.38 591.43 135.5 588.7 C135.62 585.97 136.48 583.72 137.5 581.9 C138.52 580.08 140.92 578.48 141.6 577.8"/><path d="M141.6 573.2 L158.2 575.8 L143.2 580.2 Z" stroke-width="2.9"/><path d="M159.4 604.8 L175.8 608.9 M165.2 598.6 L169.6 614.7" stroke-width="1.3"/></g>
</svg>
</body></html>
